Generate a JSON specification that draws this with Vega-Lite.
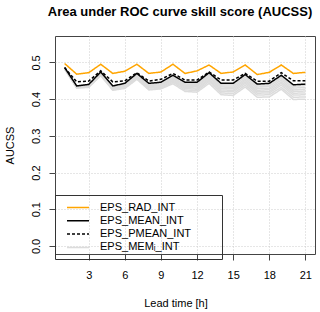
{
  "$schema": "https://vega.github.io/schema/vega-lite/v6.json",
  "width": 260,
  "height": 218,
  "autosize": {"type": "none"},
  "padding": {"left": 55, "top": 36, "right": 5, "bottom": 58},
  "title": {"text": "Area under ROC curve skill score (AUCSS)", "font": "Liberation Sans", "fontSize": 13, "fontWeight": "bold", "color": "#000", "frame": "group", "anchor": "middle", "dx": -5, "offset": 17},
  "config": {"view": {"stroke": "#444", "strokeWidth": 1}, "font": "Liberation Sans"},
  "data": {"values": [
    {"t":1,"v":0.486,"s":"EPS_MEMᵢ_INT","m":"m1"},{"t":2,"v":0.435,"s":"EPS_MEMᵢ_INT","m":"m1"},{"t":3,"v":0.439,"s":"EPS_MEMᵢ_INT","m":"m1"},{"t":4,"v":0.473,"s":"EPS_MEMᵢ_INT","m":"m1"},{"t":5,"v":0.435,"s":"EPS_MEMᵢ_INT","m":"m1"},{"t":6,"v":0.442,"s":"EPS_MEMᵢ_INT","m":"m1"},{"t":7,"v":0.468,"s":"EPS_MEMᵢ_INT","m":"m1"},{"t":8,"v":0.441,"s":"EPS_MEMᵢ_INT","m":"m1"},{"t":9,"v":0.444,"s":"EPS_MEMᵢ_INT","m":"m1"},{"t":10,"v":0.463,"s":"EPS_MEMᵢ_INT","m":"m1"},{"t":11,"v":0.444,"s":"EPS_MEMᵢ_INT","m":"m1"},{"t":12,"v":0.443,"s":"EPS_MEMᵢ_INT","m":"m1"},{"t":13,"v":0.469,"s":"EPS_MEMᵢ_INT","m":"m1"},{"t":14,"v":0.440,"s":"EPS_MEMᵢ_INT","m":"m1"},{"t":15,"v":0.440,"s":"EPS_MEMᵢ_INT","m":"m1"},{"t":16,"v":0.464,"s":"EPS_MEMᵢ_INT","m":"m1"},{"t":17,"v":0.438,"s":"EPS_MEMᵢ_INT","m":"m1"},{"t":18,"v":0.439,"s":"EPS_MEMᵢ_INT","m":"m1"},{"t":19,"v":0.461,"s":"EPS_MEMᵢ_INT","m":"m1"},{"t":20,"v":0.435,"s":"EPS_MEMᵢ_INT","m":"m1"},{"t":21,"v":0.437,"s":"EPS_MEMᵢ_INT","m":"m1"},
    {"t":1,"v":0.485,"s":"EPS_MEMᵢ_INT","m":"m2"},{"t":2,"v":0.435,"s":"EPS_MEMᵢ_INT","m":"m2"},{"t":3,"v":0.438,"s":"EPS_MEMᵢ_INT","m":"m2"},{"t":4,"v":0.472,"s":"EPS_MEMᵢ_INT","m":"m2"},{"t":5,"v":0.433,"s":"EPS_MEMᵢ_INT","m":"m2"},{"t":6,"v":0.440,"s":"EPS_MEMᵢ_INT","m":"m2"},{"t":7,"v":0.466,"s":"EPS_MEMᵢ_INT","m":"m2"},{"t":8,"v":0.439,"s":"EPS_MEMᵢ_INT","m":"m2"},{"t":9,"v":0.442,"s":"EPS_MEMᵢ_INT","m":"m2"},{"t":10,"v":0.460,"s":"EPS_MEMᵢ_INT","m":"m2"},{"t":11,"v":0.441,"s":"EPS_MEMᵢ_INT","m":"m2"},{"t":12,"v":0.440,"s":"EPS_MEMᵢ_INT","m":"m2"},{"t":13,"v":0.466,"s":"EPS_MEMᵢ_INT","m":"m2"},{"t":14,"v":0.436,"s":"EPS_MEMᵢ_INT","m":"m2"},{"t":15,"v":0.436,"s":"EPS_MEMᵢ_INT","m":"m2"},{"t":16,"v":0.460,"s":"EPS_MEMᵢ_INT","m":"m2"},{"t":17,"v":0.433,"s":"EPS_MEMᵢ_INT","m":"m2"},{"t":18,"v":0.435,"s":"EPS_MEMᵢ_INT","m":"m2"},{"t":19,"v":0.457,"s":"EPS_MEMᵢ_INT","m":"m2"},{"t":20,"v":0.430,"s":"EPS_MEMᵢ_INT","m":"m2"},{"t":21,"v":0.432,"s":"EPS_MEMᵢ_INT","m":"m2"},
    {"t":1,"v":0.484,"s":"EPS_MEMᵢ_INT","m":"m3"},{"t":2,"v":0.434,"s":"EPS_MEMᵢ_INT","m":"m3"},{"t":3,"v":0.437,"s":"EPS_MEMᵢ_INT","m":"m3"},{"t":4,"v":0.471,"s":"EPS_MEMᵢ_INT","m":"m3"},{"t":5,"v":0.432,"s":"EPS_MEMᵢ_INT","m":"m3"},{"t":6,"v":0.438,"s":"EPS_MEMᵢ_INT","m":"m3"},{"t":7,"v":0.464,"s":"EPS_MEMᵢ_INT","m":"m3"},{"t":8,"v":0.437,"s":"EPS_MEMᵢ_INT","m":"m3"},{"t":9,"v":0.439,"s":"EPS_MEMᵢ_INT","m":"m3"},{"t":10,"v":0.457,"s":"EPS_MEMᵢ_INT","m":"m3"},{"t":11,"v":0.438,"s":"EPS_MEMᵢ_INT","m":"m3"},{"t":12,"v":0.437,"s":"EPS_MEMᵢ_INT","m":"m3"},{"t":13,"v":0.462,"s":"EPS_MEMᵢ_INT","m":"m3"},{"t":14,"v":0.433,"s":"EPS_MEMᵢ_INT","m":"m3"},{"t":15,"v":0.432,"s":"EPS_MEMᵢ_INT","m":"m3"},{"t":16,"v":0.455,"s":"EPS_MEMᵢ_INT","m":"m3"},{"t":17,"v":0.429,"s":"EPS_MEMᵢ_INT","m":"m3"},{"t":18,"v":0.430,"s":"EPS_MEMᵢ_INT","m":"m3"},{"t":19,"v":0.452,"s":"EPS_MEMᵢ_INT","m":"m3"},{"t":20,"v":0.425,"s":"EPS_MEMᵢ_INT","m":"m3"},{"t":21,"v":0.427,"s":"EPS_MEMᵢ_INT","m":"m3"},
    {"t":1,"v":0.484,"s":"EPS_MEMᵢ_INT","m":"m4"},{"t":2,"v":0.433,"s":"EPS_MEMᵢ_INT","m":"m4"},{"t":3,"v":0.436,"s":"EPS_MEMᵢ_INT","m":"m4"},{"t":4,"v":0.469,"s":"EPS_MEMᵢ_INT","m":"m4"},{"t":5,"v":0.430,"s":"EPS_MEMᵢ_INT","m":"m4"},{"t":6,"v":0.436,"s":"EPS_MEMᵢ_INT","m":"m4"},{"t":7,"v":0.462,"s":"EPS_MEMᵢ_INT","m":"m4"},{"t":8,"v":0.434,"s":"EPS_MEMᵢ_INT","m":"m4"},{"t":9,"v":0.437,"s":"EPS_MEMᵢ_INT","m":"m4"},{"t":10,"v":0.455,"s":"EPS_MEMᵢ_INT","m":"m4"},{"t":11,"v":0.435,"s":"EPS_MEMᵢ_INT","m":"m4"},{"t":12,"v":0.434,"s":"EPS_MEMᵢ_INT","m":"m4"},{"t":13,"v":0.459,"s":"EPS_MEMᵢ_INT","m":"m4"},{"t":14,"v":0.429,"s":"EPS_MEMᵢ_INT","m":"m4"},{"t":15,"v":0.428,"s":"EPS_MEMᵢ_INT","m":"m4"},{"t":16,"v":0.451,"s":"EPS_MEMᵢ_INT","m":"m4"},{"t":17,"v":0.424,"s":"EPS_MEMᵢ_INT","m":"m4"},{"t":18,"v":0.426,"s":"EPS_MEMᵢ_INT","m":"m4"},{"t":19,"v":0.447,"s":"EPS_MEMᵢ_INT","m":"m4"},{"t":20,"v":0.421,"s":"EPS_MEMᵢ_INT","m":"m4"},{"t":21,"v":0.422,"s":"EPS_MEMᵢ_INT","m":"m4"},
    {"t":1,"v":0.483,"s":"EPS_MEMᵢ_INT","m":"m5"},{"t":2,"v":0.432,"s":"EPS_MEMᵢ_INT","m":"m5"},{"t":3,"v":0.435,"s":"EPS_MEMᵢ_INT","m":"m5"},{"t":4,"v":0.468,"s":"EPS_MEMᵢ_INT","m":"m5"},{"t":5,"v":0.429,"s":"EPS_MEMᵢ_INT","m":"m5"},{"t":6,"v":0.435,"s":"EPS_MEMᵢ_INT","m":"m5"},{"t":7,"v":0.460,"s":"EPS_MEMᵢ_INT","m":"m5"},{"t":8,"v":0.432,"s":"EPS_MEMᵢ_INT","m":"m5"},{"t":9,"v":0.434,"s":"EPS_MEMᵢ_INT","m":"m5"},{"t":10,"v":0.452,"s":"EPS_MEMᵢ_INT","m":"m5"},{"t":11,"v":0.432,"s":"EPS_MEMᵢ_INT","m":"m5"},{"t":12,"v":0.430,"s":"EPS_MEMᵢ_INT","m":"m5"},{"t":13,"v":0.455,"s":"EPS_MEMᵢ_INT","m":"m5"},{"t":14,"v":0.425,"s":"EPS_MEMᵢ_INT","m":"m5"},{"t":15,"v":0.424,"s":"EPS_MEMᵢ_INT","m":"m5"},{"t":16,"v":0.447,"s":"EPS_MEMᵢ_INT","m":"m5"},{"t":17,"v":0.420,"s":"EPS_MEMᵢ_INT","m":"m5"},{"t":18,"v":0.421,"s":"EPS_MEMᵢ_INT","m":"m5"},{"t":19,"v":0.443,"s":"EPS_MEMᵢ_INT","m":"m5"},{"t":20,"v":0.416,"s":"EPS_MEMᵢ_INT","m":"m5"},{"t":21,"v":0.417,"s":"EPS_MEMᵢ_INT","m":"m5"},
    {"t":1,"v":0.483,"s":"EPS_MEMᵢ_INT","m":"m6"},{"t":2,"v":0.432,"s":"EPS_MEMᵢ_INT","m":"m6"},{"t":3,"v":0.434,"s":"EPS_MEMᵢ_INT","m":"m6"},{"t":4,"v":0.467,"s":"EPS_MEMᵢ_INT","m":"m6"},{"t":5,"v":0.427,"s":"EPS_MEMᵢ_INT","m":"m6"},{"t":6,"v":0.433,"s":"EPS_MEMᵢ_INT","m":"m6"},{"t":7,"v":0.458,"s":"EPS_MEMᵢ_INT","m":"m6"},{"t":8,"v":0.430,"s":"EPS_MEMᵢ_INT","m":"m6"},{"t":9,"v":0.432,"s":"EPS_MEMᵢ_INT","m":"m6"},{"t":10,"v":0.449,"s":"EPS_MEMᵢ_INT","m":"m6"},{"t":11,"v":0.429,"s":"EPS_MEMᵢ_INT","m":"m6"},{"t":12,"v":0.427,"s":"EPS_MEMᵢ_INT","m":"m6"},{"t":13,"v":0.452,"s":"EPS_MEMᵢ_INT","m":"m6"},{"t":14,"v":0.421,"s":"EPS_MEMᵢ_INT","m":"m6"},{"t":15,"v":0.420,"s":"EPS_MEMᵢ_INT","m":"m6"},{"t":16,"v":0.443,"s":"EPS_MEMᵢ_INT","m":"m6"},{"t":17,"v":0.416,"s":"EPS_MEMᵢ_INT","m":"m6"},{"t":18,"v":0.417,"s":"EPS_MEMᵢ_INT","m":"m6"},{"t":19,"v":0.438,"s":"EPS_MEMᵢ_INT","m":"m6"},{"t":20,"v":0.411,"s":"EPS_MEMᵢ_INT","m":"m6"},{"t":21,"v":0.412,"s":"EPS_MEMᵢ_INT","m":"m6"},
    {"t":1,"v":0.482,"s":"EPS_MEMᵢ_INT","m":"m7"},{"t":2,"v":0.431,"s":"EPS_MEMᵢ_INT","m":"m7"},{"t":3,"v":0.433,"s":"EPS_MEMᵢ_INT","m":"m7"},{"t":4,"v":0.465,"s":"EPS_MEMᵢ_INT","m":"m7"},{"t":5,"v":0.426,"s":"EPS_MEMᵢ_INT","m":"m7"},{"t":6,"v":0.431,"s":"EPS_MEMᵢ_INT","m":"m7"},{"t":7,"v":0.456,"s":"EPS_MEMᵢ_INT","m":"m7"},{"t":8,"v":0.427,"s":"EPS_MEMᵢ_INT","m":"m7"},{"t":9,"v":0.429,"s":"EPS_MEMᵢ_INT","m":"m7"},{"t":10,"v":0.446,"s":"EPS_MEMᵢ_INT","m":"m7"},{"t":11,"v":0.425,"s":"EPS_MEMᵢ_INT","m":"m7"},{"t":12,"v":0.423,"s":"EPS_MEMᵢ_INT","m":"m7"},{"t":13,"v":0.448,"s":"EPS_MEMᵢ_INT","m":"m7"},{"t":14,"v":0.417,"s":"EPS_MEMᵢ_INT","m":"m7"},{"t":15,"v":0.415,"s":"EPS_MEMᵢ_INT","m":"m7"},{"t":16,"v":0.438,"s":"EPS_MEMᵢ_INT","m":"m7"},{"t":17,"v":0.411,"s":"EPS_MEMᵢ_INT","m":"m7"},{"t":18,"v":0.412,"s":"EPS_MEMᵢ_INT","m":"m7"},{"t":19,"v":0.432,"s":"EPS_MEMᵢ_INT","m":"m7"},{"t":20,"v":0.405,"s":"EPS_MEMᵢ_INT","m":"m7"},{"t":21,"v":0.406,"s":"EPS_MEMᵢ_INT","m":"m7"},
    {"t":1,"v":0.482,"s":"EPS_MEMᵢ_INT","m":"m8"},{"t":2,"v":0.430,"s":"EPS_MEMᵢ_INT","m":"m8"},{"t":3,"v":0.432,"s":"EPS_MEMᵢ_INT","m":"m8"},{"t":4,"v":0.464,"s":"EPS_MEMᵢ_INT","m":"m8"},{"t":5,"v":0.424,"s":"EPS_MEMᵢ_INT","m":"m8"},{"t":6,"v":0.429,"s":"EPS_MEMᵢ_INT","m":"m8"},{"t":7,"v":0.454,"s":"EPS_MEMᵢ_INT","m":"m8"},{"t":8,"v":0.425,"s":"EPS_MEMᵢ_INT","m":"m8"},{"t":9,"v":0.428,"s":"EPS_MEMᵢ_INT","m":"m8"},{"t":10,"v":0.442,"s":"EPS_MEMᵢ_INT","m":"m8"},{"t":11,"v":0.421,"s":"EPS_MEMᵢ_INT","m":"m8"},{"t":12,"v":0.419,"s":"EPS_MEMᵢ_INT","m":"m8"},{"t":13,"v":0.443,"s":"EPS_MEMᵢ_INT","m":"m8"},{"t":14,"v":0.412,"s":"EPS_MEMᵢ_INT","m":"m8"},{"t":15,"v":0.410,"s":"EPS_MEMᵢ_INT","m":"m8"},{"t":16,"v":0.433,"s":"EPS_MEMᵢ_INT","m":"m8"},{"t":17,"v":0.405,"s":"EPS_MEMᵢ_INT","m":"m8"},{"t":18,"v":0.406,"s":"EPS_MEMᵢ_INT","m":"m8"},{"t":19,"v":0.427,"s":"EPS_MEMᵢ_INT","m":"m8"},{"t":20,"v":0.399,"s":"EPS_MEMᵢ_INT","m":"m8"},{"t":21,"v":0.400,"s":"EPS_MEMᵢ_INT","m":"m8"},
    {"t":1,"v":0.486,"s":"EPS_PMEAN_INT","m":"p"},{"t":2,"v":0.447,"s":"EPS_PMEAN_INT","m":"p"},{"t":3,"v":0.449,"s":"EPS_PMEAN_INT","m":"p"},{"t":4,"v":0.477,"s":"EPS_PMEAN_INT","m":"p"},{"t":5,"v":0.447,"s":"EPS_PMEAN_INT","m":"p"},{"t":6,"v":0.450,"s":"EPS_PMEAN_INT","m":"p"},{"t":7,"v":0.472,"s":"EPS_PMEAN_INT","m":"p"},{"t":8,"v":0.449,"s":"EPS_PMEAN_INT","m":"p"},{"t":9,"v":0.454,"s":"EPS_PMEAN_INT","m":"p"},{"t":10,"v":0.470,"s":"EPS_PMEAN_INT","m":"p"},{"t":11,"v":0.452,"s":"EPS_PMEAN_INT","m":"p"},{"t":12,"v":0.452,"s":"EPS_PMEAN_INT","m":"p"},{"t":13,"v":0.474,"s":"EPS_PMEAN_INT","m":"p"},{"t":14,"v":0.452,"s":"EPS_PMEAN_INT","m":"p"},{"t":15,"v":0.452,"s":"EPS_PMEAN_INT","m":"p"},{"t":16,"v":0.470,"s":"EPS_PMEAN_INT","m":"p"},{"t":17,"v":0.449,"s":"EPS_PMEAN_INT","m":"p"},{"t":18,"v":0.449,"s":"EPS_PMEAN_INT","m":"p"},{"t":19,"v":0.472,"s":"EPS_PMEAN_INT","m":"p"},{"t":20,"v":0.450,"s":"EPS_PMEAN_INT","m":"p"},{"t":21,"v":0.450,"s":"EPS_PMEAN_INT","m":"p"},
    {"t":1,"v":0.486,"s":"EPS_MEAN_INT","m":"a"},{"t":2,"v":0.436,"s":"EPS_MEAN_INT","m":"a"},{"t":3,"v":0.440,"s":"EPS_MEAN_INT","m":"a"},{"t":4,"v":0.474,"s":"EPS_MEAN_INT","m":"a"},{"t":5,"v":0.436,"s":"EPS_MEAN_INT","m":"a"},{"t":6,"v":0.443,"s":"EPS_MEAN_INT","m":"a"},{"t":7,"v":0.470,"s":"EPS_MEAN_INT","m":"a"},{"t":8,"v":0.443,"s":"EPS_MEAN_INT","m":"a"},{"t":9,"v":0.446,"s":"EPS_MEAN_INT","m":"a"},{"t":10,"v":0.465,"s":"EPS_MEAN_INT","m":"a"},{"t":11,"v":0.446,"s":"EPS_MEAN_INT","m":"a"},{"t":12,"v":0.446,"s":"EPS_MEAN_INT","m":"a"},{"t":13,"v":0.472,"s":"EPS_MEAN_INT","m":"a"},{"t":14,"v":0.443,"s":"EPS_MEAN_INT","m":"a"},{"t":15,"v":0.443,"s":"EPS_MEAN_INT","m":"a"},{"t":16,"v":0.467,"s":"EPS_MEAN_INT","m":"a"},{"t":17,"v":0.441,"s":"EPS_MEAN_INT","m":"a"},{"t":18,"v":0.443,"s":"EPS_MEAN_INT","m":"a"},{"t":19,"v":0.465,"s":"EPS_MEAN_INT","m":"a"},{"t":20,"v":0.439,"s":"EPS_MEAN_INT","m":"a"},{"t":21,"v":0.441,"s":"EPS_MEAN_INT","m":"a"},
    {"t":1,"v":0.497,"s":"EPS_RAD_INT","m":"r"},{"t":2,"v":0.468,"s":"EPS_RAD_INT","m":"r"},{"t":3,"v":0.472,"s":"EPS_RAD_INT","m":"r"},{"t":4,"v":0.495,"s":"EPS_RAD_INT","m":"r"},{"t":5,"v":0.470,"s":"EPS_RAD_INT","m":"r"},{"t":6,"v":0.476,"s":"EPS_RAD_INT","m":"r"},{"t":7,"v":0.495,"s":"EPS_RAD_INT","m":"r"},{"t":8,"v":0.470,"s":"EPS_RAD_INT","m":"r"},{"t":9,"v":0.474,"s":"EPS_RAD_INT","m":"r"},{"t":10,"v":0.495,"s":"EPS_RAD_INT","m":"r"},{"t":11,"v":0.470,"s":"EPS_RAD_INT","m":"r"},{"t":12,"v":0.477,"s":"EPS_RAD_INT","m":"r"},{"t":13,"v":0.493,"s":"EPS_RAD_INT","m":"r"},{"t":14,"v":0.470,"s":"EPS_RAD_INT","m":"r"},{"t":15,"v":0.474,"s":"EPS_RAD_INT","m":"r"},{"t":16,"v":0.493,"s":"EPS_RAD_INT","m":"r"},{"t":17,"v":0.467,"s":"EPS_RAD_INT","m":"r"},{"t":18,"v":0.473,"s":"EPS_RAD_INT","m":"r"},{"t":19,"v":0.493,"s":"EPS_RAD_INT","m":"r"},{"t":20,"v":0.470,"s":"EPS_RAD_INT","m":"r"},{"t":21,"v":0.473,"s":"EPS_RAD_INT","m":"r"}
  ]},
  "layer": [
    {
      "mark": {"type": "line", "strokeJoin": "miter"},
      "encoding": {
        "x": {"field": "t", "type": "quantitative",
          "scale": {"domain": [0.2, 21.8], "nice": false, "zero": false},
          "axis": {"values": [3,6,9,12,15,18,21], "grid": true, "gridColor": "#cccccc", "gridDash": [1,2], "domain": false,
            "tickSize": 6, "tickColor": "#444", "labelPadding": 9, "labelFontSize": 11, "labelColor": "#000", "labelFont": "Liberation Sans",
            "title": "Lead time [h]", "titleFontSize": 11, "titleFontWeight": "normal", "titleFont": "Liberation Sans", "titleColor": "#000",
            "titleX": 120.5, "titleY": 52, "titleBaseline": "alphabetic", "titleAlign": "center"}},
        "y": {"field": "v", "type": "quantitative",
          "scale": {"domain": [-0.022, 0.572], "nice": false, "zero": false},
          "axis": {"values": [0,0.1,0.2,0.3,0.4,0.5], "format": ".1f", "grid": true, "gridColor": "#cccccc", "gridDash": [1,2], "domain": false,
            "tickSize": 6, "tickColor": "#444", "labelAngle": -90, "labelAlign": "center", "labelBaseline": "bottom", "labelPadding": 8, "labelFontSize": 11, "labelColor": "#000", "labelFont": "Liberation Sans",
            "title": "AUCSS", "titleFontSize": 11, "titleFontWeight": "normal", "titleFont": "Liberation Sans", "titleColor": "#000",
            "titleX": -45, "titleY": 109, "titleBaseline": "middle", "titleAlign": "center", "titleAngle": 270}},
        "detail": {"field": "m"},
        "color": {"field": "s", "type": "nominal",
          "scale": {"domain": ["EPS_RAD_INT","EPS_MEAN_INT","EPS_PMEAN_INT","EPS_MEMᵢ_INT"], "range": ["#FFA500","#000000","#000000","#dcdcdc"]},
          "legend": {"orient": "none", "legendX": 0, "legendY": 159, "padding": 6, "symbolOffset": 5, "labelOffset": 21,
            "symbolType": "M-1,0H3", "symbolSize": 121, "symbolStrokeWidth": 1.3, "labelFontSize": 11, "labelFont": "Liberation Sans", "labelColor": "#000",
            "strokeColor": "#333", "cornerRadius": 0, "rowPadding": 1.3, "title": " ", "titleOrient": "right", "titlePadding": 25}},
        "strokeDash": {"field": "s", "type": "nominal",
          "scale": {"domain": ["EPS_RAD_INT","EPS_MEAN_INT","EPS_PMEAN_INT","EPS_MEMᵢ_INT"], "range": [[1,0],[1,0],[3,2],[1,0]]},
          "legend": {"orient": "none", "legendX": 0, "legendY": 159, "padding": 6, "symbolOffset": 5, "labelOffset": 21,
            "symbolType": "M-1,0H3", "symbolSize": 121, "symbolStrokeWidth": 1.3, "labelFontSize": 11, "labelFont": "Liberation Sans", "labelColor": "#000",
            "strokeColor": "#333", "cornerRadius": 0, "rowPadding": 1.3, "title": " ", "titleOrient": "right", "titlePadding": 25}},
        "strokeWidth": {"field": "s", "type": "nominal",
          "scale": {"domain": ["EPS_RAD_INT","EPS_MEAN_INT","EPS_PMEAN_INT","EPS_MEMᵢ_INT"], "range": [1.5,1.5,1.1,0.8]},
          "legend": null}
      }
    }
  ]
}
